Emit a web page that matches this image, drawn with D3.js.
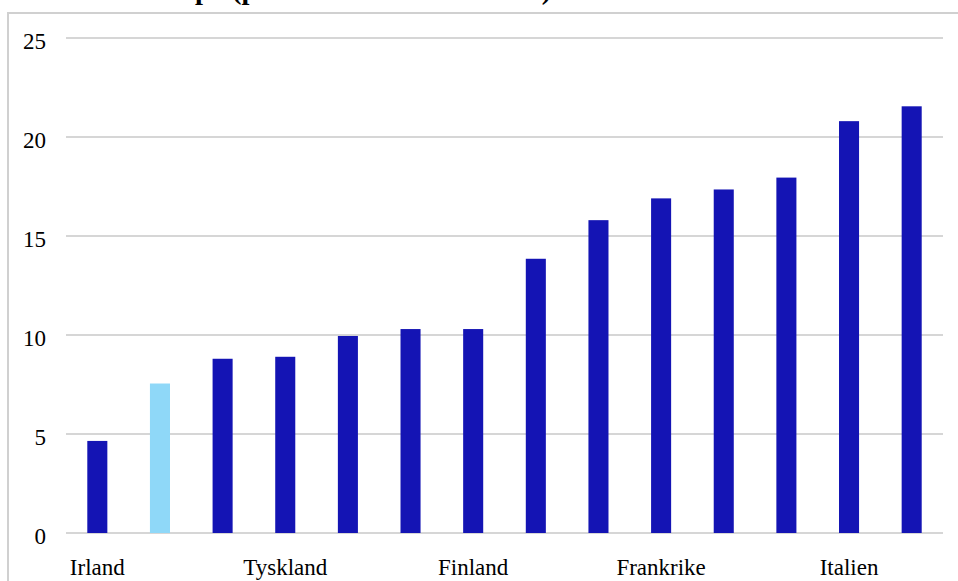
<!DOCTYPE html>
<html>
<head>
<meta charset="utf-8">
<script src="https://cdn.jsdelivr.net/npm/d3@7"></script>
<style>
  html, body { margin: 0; padding: 0; background: #fff; }
  svg { display: block; }
  text { font-family: "Liberation Serif", "Times New Roman", serif; fill: #000; }
</style>
</head>
<body>
<svg id="chart" width="958" height="581"></svg>
<script>
// ---- data ----
const categories = ["Irland", "Sverige", "Nederländerna", "Tyskland", "Danmark", "Österrike",
  "Finland", "Storbritannien", "Belgien", "Frankrike", "Spanien", "Portugal", "Italien", "Grekland"];
const values = [4.65, 7.55, 8.8, 8.9, 9.95, 10.3, 10.3, 13.85, 15.8, 16.9, 17.35, 17.95, 20.8, 21.55];
const highlighted = ["Sverige"];
const yTicks = [0, 5, 10, 15, 20, 25];
const titleText = "Arbetslöshet i Europa (procent av arbetskraften)";

// ---- layout ----
const svg = d3.select("#chart");
const W = 958, H = 581;
const plot = { left: 66, right: 943, top: 38, bottom: 533 };

// frame
svg.append("rect")
  .attr("x", 8).attr("y", 13)
  .attr("width", W).attr("height", H)
  .attr("fill", "none").attr("stroke", "#d0d0d0").attr("stroke-width", 2);

// title (cut off at the top)
const title = svg.append("text")
  .attr("y", -1)
  .attr("font-weight", "bold")
  .attr("font-size", 24)
  .text(titleText);
{
  const node = title.node();
  const iOpen = titleText.indexOf("(");
  const iClose = titleText.indexOf(")");
  const span = node.getSubStringLength(iOpen, iClose - iOpen);
  const fs = 24 * 310 / span;
  title.attr("font-size", fs);
  const off = node.getSubStringLength(0, iOpen);
  title.attr("x", 232 - off);
}

const x = d3.scaleBand()
  .domain(categories)
  .range([plot.left, plot.right])
  .paddingInner(0.68)
  .paddingOuter(0.34);

const y = d3.scaleLinear()
  .domain([0, 25])
  .range([plot.bottom, plot.top]);

// gridlines
svg.append("g")
  .selectAll("line")
  .data(yTicks)
  .join("line")
  .attr("x1", plot.left).attr("x2", plot.right)
  .attr("y1", d => y(d)).attr("y2", d => y(d))
  .attr("stroke", "#d6d6d6").attr("stroke-width", 2);

// y tick labels
svg.append("g")
  .selectAll("text")
  .data(yTicks)
  .join("text")
  .attr("x", 46)
  .attr("y", d => y(d) + 11)
  .attr("text-anchor", "end")
  .attr("font-size", 23)
  .text(d => d);

// bars
svg.append("g")
  .selectAll("rect")
  .data(categories.map((c, i) => ({ c, v: values[i] })))
  .join("rect")
  .attr("x", d => x(d.c))
  .attr("width", x.bandwidth())
  .attr("y", d => y(d.v))
  .attr("height", d => y(0) - y(d.v))
  .attr("fill", d => highlighted.includes(d.c) ? "#8fd8f8" : "#1414b4");

// x labels (every third category)
svg.append("g")
  .selectAll("text")
  .data(categories.filter((c, i) => i % 3 === 0))
  .join("text")
  .attr("x", d => x(d) + x.bandwidth() / 2)
  .attr("y", 575)
  .attr("text-anchor", "middle")
  .attr("font-size", 23)
  .text(d => d);
</script>
</body>
</html>
